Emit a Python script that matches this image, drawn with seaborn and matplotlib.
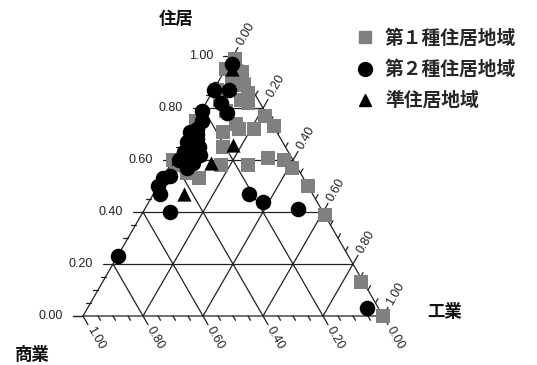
import numpy as np
import pandas as pd
import matplotlib
matplotlib.use("Agg")
import matplotlib.pyplot as plt
import seaborn as sns
from matplotlib.lines import Line2D

sns.set_theme(style="white")
plt.rcParams['font.family'] = ['Noto Sans CJK JP', 'DejaVu Sans']

# ---------------- data (residential share, industrial share) ----------------
groups = ["第１種住居地域", "第２種住居地域", "準住居地域"]
axis_titles = ["住居", "工業", "商業"]
tick_values = [0.0, 0.2, 0.4, 0.6, 0.8, 1.0]

res_1 = [0.99, 0.94, 0.89, 0.83, 0.91, 0.83, 0.82, 0.74, 0.72, 0.77, 0.73, 0.71, 0.65,
         0.58, 0.61, 0.60, 0.57, 0.50, 0.39, 0.13, 0.00, 0.58, 0.53, 0.55, 0.58, 0.75,
         0.95, 0.87, 0.72, 0.60, 0.92, 0.86, 0.79]
ind_1 = [0.01, 0.06, 0.09, 0.11, 0.04, 0.04, 0.14, 0.14, 0.21, 0.22, 0.27, 0.11, 0.14,
         0.26, 0.31, 0.37, 0.41, 0.50, 0.61, 0.86, 1.00, 0.02, 0.12, 0.07, 0.17, 0.00,
         0.00, 0.01, 0.16, 0.00, 0.07, 0.12, 0.08]

res_2 = [0.97, 0.87, 0.87, 0.82, 0.78, 0.79, 0.75, 0.72, 0.71, 0.67, 0.68, 0.63, 0.62,
         0.59, 0.57, 0.54, 0.53, 0.50, 0.47, 0.40, 0.47, 0.44, 0.41, 0.23, 0.03, 0.64,
         0.60, 0.70, 0.65, 0.61]
ind_2 = [0.01, 0.00, 0.05, 0.05, 0.09, 0.00, 0.02, 0.02, 0.00, 0.01, 0.04, 0.02, 0.08,
         0.07, 0.06, 0.02, 0.00, 0.00, 0.02, 0.09, 0.32, 0.38, 0.51, 0.00, 0.93, 0.04,
         0.02, 0.03, 0.06, 0.04]

res_3 = [0.95, 0.66, 0.61, 0.59, 0.47]
ind_3 = [0.02, 0.17, 0.01, 0.13, 0.10]

H = np.sqrt(3) / 2
PX = 1 / 300.0  # one pixel in data units


def to_xy(res, ind):
    res = np.asarray(res, float)
    ind = np.asarray(ind, float)
    return ind + res / 2, res * H


def P(px, py):
    return (px - 83) * PX, (316 - py) * PX


frames = []
for name, r, i in [(groups[0], res_1, ind_1), (groups[1], res_2, ind_2), (groups[2], res_3, ind_3)]:
    x, y = to_xy(r, i)
    frames.append(pd.DataFrame({"x": x, "y": y, "group": name,
                                "住居": r, "工業": i, "商業": 1 - np.asarray(r) - np.asarray(i)}))
df = pd.concat(frames, ignore_index=True)

fig = plt.figure(figsize=(5.37, 3.65), dpi=100)
ax = fig.add_axes([0, 0, 1, 1])
ax.set_xlim(-83 * PX, 454 * PX)
ax.set_ylim(-49 * PX, 316 * PX)
ax.axis("off")

lc = "#222222"
lw = 0.9

# outer triangle
ax.plot([0, 1, 0.5, 0], [0, 0, H, 0], color=lc, lw=lw, zorder=1)

d_left = np.array([-1.0, 0.0])
d_right = np.array([0.5, H])
d_bottom = np.array([0.5, -H])

for k in range(0, 21):
    v = k * 0.05
    major = (k % 4 == 0)
    L = 10 * PX if major else 5 * PX
    # residential (left axis): horizontal lines
    pL = np.array([v / 2, v * H])
    pR = np.array([1 - v / 2, v * H])
    if major and 0 < k < 20:
        ax.plot([pL[0] + d_left[0] * L, pR[0]], [pL[1], pR[1]], color=lc, lw=lw, zorder=1)
    else:
        ax.plot([pL[0], pL[0] + d_left[0] * L], [pL[1], pL[1]], color=lc, lw=lw, zorder=1)
    if k == 0:
        ax.plot([-10 * PX, 0], [0, 0], color=lc, lw=lw, zorder=1)
    # industrial (right axis): lines parallel to left edge
    b = np.array([v, 0.0])
    e = np.array([v + (1 - v) / 2, (1 - v) * H])
    if major and 0 < k < 20:
        ax.plot([b[0], e[0] + d_right[0] * L], [b[1], e[1] + d_right[1] * L], color=lc, lw=lw, zorder=1)
    else:
        ax.plot([e[0], e[0] + d_right[0] * L], [e[1], e[1] + d_right[1] * L], color=lc, lw=lw, zorder=1)
    # commercial (bottom axis): lines parallel to right edge
    b2 = np.array([1 - v, 0.0])
    e2 = np.array([(1 - v) / 2, (1 - v) * H])
    if major and 0 < k < 20:
        ax.plot([b2[0] + d_bottom[0] * L, e2[0]], [b2[1] + d_bottom[1] * L, e2[1]], color=lc, lw=lw, zorder=1)
    else:
        ax.plot([b2[0], b2[0] + d_bottom[0] * L], [b2[1], b2[1] + d_bottom[1] * L], color=lc, lw=lw, zorder=1)

tick_font = dict(fontsize=9, family=["Liberation Sans", "DejaVu Sans"], color="#222222")
for v in tick_values:
    lab = f"{v:.2f}"
    # left
    ax.text(v / 2 - 20 * PX, v * H, lab, ha="right", va="center", **tick_font)
    # right (industrial)
    e = np.array([v + (1 - v) / 2, (1 - v) * H]) + d_right * 13 * PX
    ax.text(e[0], e[1], lab, rotation=60, rotation_mode="anchor", ha="left", va="center", **tick_font)
    # bottom (commercial)
    b2 = np.array([1 - v, 0.0]) + d_bottom * 13 * PX
    ax.text(b2[0], b2[1], lab, rotation=-60, rotation_mode="anchor", ha="left", va="center", **tick_font)

# points
styles = {
    groups[0]: dict(marker="s", color="#808080", s=105),
    groups[1]: dict(marker="o", color="#000000", s=125),
    groups[2]: dict(marker="^", color="#000000", s=105),
}
for g in groups:
    sns.scatterplot(data=df[df.group == g], x="x", y="y", ax=ax, linewidth=0,
                    legend=False, zorder=3, **styles[g])

# axis titles
title_font = dict(fontsize=12.5, fontweight="bold", color="#111111")
ax.text(*P(176, 19), axis_titles[0], ha="center", va="center", **title_font)
ax.text(*P(445, 312), axis_titles[1], ha="center", va="center", **title_font)
ax.text(*P(32, 355), axis_titles[2], ha="center", va="center", **title_font)

# legend
handles = [Line2D([], [], linestyle="none", marker="s", color="#808080", markersize=9),
           Line2D([], [], linestyle="none", marker="o", color="#000000", markersize=10),
           Line2D([], [], linestyle="none", marker="^", color="#000000", markersize=9)]
leg = ax.legend(handles, groups, loc="upper left", bbox_to_anchor=(356 / 537, 1 - 29 / 365),
                frameon=False, handletextpad=0.55, labelspacing=0.65, handlelength=1.0,
                prop=dict(size=13.5, weight="bold"), borderaxespad=0, borderpad=0)

fig.savefig("out.png", dpi=100)
